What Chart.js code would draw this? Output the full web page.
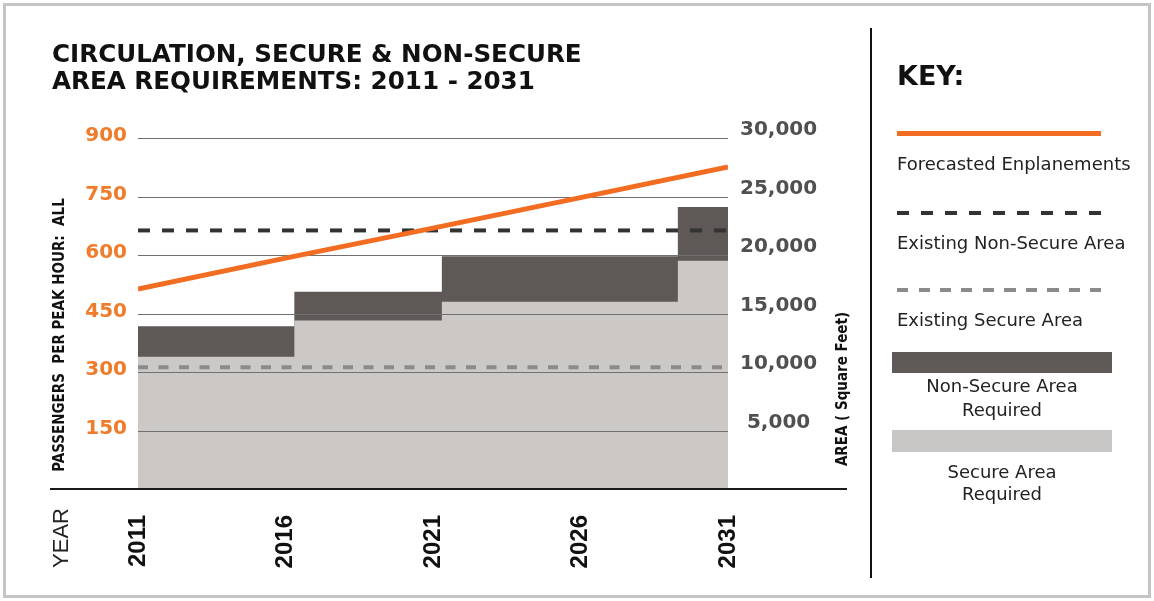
<!DOCTYPE html>
<html>
<head>
<meta charset="utf-8">
<script src="https://cdn.jsdelivr.net/npm/chart.js@4.4.1/dist/chart.umd.min.js"></script>
<style>
html,body{margin:0;padding:0;background:#fff;}
#wrap{position:relative;width:1154px;height:601px;overflow:hidden;background:#fff;}
canvas{position:absolute;left:0;top:0;}
.abs{position:absolute;white-space:pre;}
.frame{position:absolute;left:3px;top:3px;width:1148px;height:595px;box-sizing:border-box;border:3px solid #c4c4c4;}
.title{left:52px;top:40px;font:bold 24.6px/27px "DejaVu Sans";color:#111;}
.key{left:897px;top:62px;font:bold 27px/27px "DejaVu Sans";color:#111;}
.ltxt{font:18px/22px "DejaVu Sans";color:#222;}
.ctr{text-align:center;width:220px;left:892px;}
.rot{transform:translate(-50%,-50%) rotate(-90deg);}
.axt{font-family:"DejaVu Sans Condensed","DejaVu Sans";font-stretch:condensed;font-weight:bold;font-size:15px;line-height:16px;color:#111;}
</style>
</head>
<body>
<div id="wrap">
<canvas id="c" width="1154" height="601"></canvas>
<div class="frame"></div>
<div class="abs title">CIRCULATION, SECURE &amp; NON-SECURE
AREA REQUIREMENTS: 2011 - 2031</div>
<div class="abs" style="left:870px;top:28px;width:2px;height:550px;background:#111;"></div>
<div class="abs key">KEY:</div>
<div class="abs" style="left:897px;top:131px;width:204px;height:5px;background:#f26c22;"></div>
<div class="abs ltxt" style="left:897px;top:153px;">Forecasted Enplanements</div>
<div class="abs" style="left:897px;top:211px;width:205px;height:4px;background:repeating-linear-gradient(to right,#333 0 12.5px,transparent 12.5px 24px);"></div>
<div class="abs ltxt" style="left:897px;top:232px;">Existing Non-Secure Area</div>
<div class="abs" style="left:897px;top:288px;width:205px;height:4px;background:repeating-linear-gradient(to right,#8c8a8a 0 11px,transparent 11px 21.5px);"></div>
<div class="abs ltxt" style="left:897px;top:309px;">Existing Secure Area</div>
<div class="abs" style="left:892px;top:352px;width:220px;height:21px;background:#5f5a58;"></div>
<div class="abs ltxt ctr" style="top:374px;line-height:23.5px;">Non-Secure Area
Required</div>
<div class="abs" style="left:892px;top:430px;width:220px;height:22px;background:#c9c7c6;"></div>
<div class="abs ltxt ctr" style="top:461px;">Secure Area
Required</div>
<div class="abs rot axt" style="left:59px;top:335px;">PASSENGERS  PER PEAK HOUR:  ALL</div>
<div class="abs rot axt" style="left:842px;top:389px;">AREA ( Square Feet)</div>
<div class="abs rot" style="left:61px;top:538px;font:22px/24px 'Liberation Sans';color:#222;">YEAR</div>
</div>
<script>
// ---- data ----
const forecastYears = [2011, 2016, 2021, 2026, 2031];
const forecastEnplanements = [513, 592, 669, 747, 826];           // passengers per peak hour
const areaStepYears = [2011, 2016.3, 2021.3, 2029.3, 2031];
const secureAreaRequired = [11300, 14400, 16000, 19500, 19500];    // sq ft
const nonSecureAreaRequired = [2600, 2450, 3900, 4600, 4600];      // sq ft
const existingNonSecureArea = 22100;                               // sq ft
const existingSecureArea = 10400;                                  // sq ft
const yearTicks = [2011, 2016, 2021, 2026, 2031];
const passengerTicks = [150, 300, 450, 600, 750, 900];
const areaTicks = [5000, 10000, 15000, 20000, 25000, 30000];

const totalAreaRequired = secureAreaRequired.map((v, i) => v + nonSecureAreaRequired[i]);
const pts = (xs, ys) => xs.map((x, i) => ({x, y: ys[i]}));
const hline = (v) => [{x: yearTicks[0], y: v}, {x: yearTicks[yearTicks.length - 1], y: v}];

const overlayPlugin = {
  id: 'overlay',
  afterDatasetDraw(chart, args) {
    if (chart.data.datasets[args.index].label !== 'Secure Area Required') return;
    const {ctx, chartArea} = chart;
    const yP = chart.scales.yP;
    ctx.save();
    ctx.strokeStyle = '#707070';
    ctx.lineWidth = 1;
    yP.ticks.forEach(t => {
      const y = Math.round(yP.getPixelForValue(t.value)) + 0.5;
      ctx.beginPath(); ctx.moveTo(chartArea.left, y); ctx.lineTo(chartArea.right, y); ctx.stroke();
    });
    ctx.restore();
  },
  afterDatasetsDraw(chart) {
    const {ctx, chartArea} = chart;
    ctx.save();
    ctx.strokeStyle = '#1b1b1b';
    ctx.lineWidth = 2;
    ctx.beginPath(); ctx.moveTo(50, chartArea.bottom); ctx.lineTo(847, chartArea.bottom); ctx.stroke();
    ctx.restore();
  }
};

new Chart(document.getElementById('c'), {
  type: 'line',
  data: {
    datasets: [
      { label: 'Forecasted Enplanements', data: pts(forecastYears, forecastEnplanements), yAxisID: 'yP',
        borderColor: '#f26c22', borderWidth: 5, pointRadius: 0, fill: false, order: 1 },
      { label: 'Existing Non-Secure Area', data: hline(existingNonSecureArea), yAxisID: 'yA',
        borderColor: '#333333', borderWidth: 4, borderDash: [12, 12], pointRadius: 0, fill: false, order: 2 },
      { label: 'Existing Secure Area', data: hline(existingSecureArea), yAxisID: 'yA',
        borderColor: '#8c8a8a', borderWidth: 4, borderDash: [10, 10.5], pointRadius: 0, fill: false, order: 3 },
      { label: 'Secure Area Required', data: pts(areaStepYears, secureAreaRequired), yAxisID: 'yA',
        stepped: true, borderWidth: 0, borderColor: 'rgba(0,0,0,0)', backgroundColor: '#cbc8c6', pointRadius: 0, fill: 'origin', order: 4 },
      { label: 'Non-Secure Area Required', data: pts(areaStepYears, totalAreaRequired), yAxisID: 'yA',
        stepped: true, borderWidth: 0, borderColor: 'rgba(0,0,0,0)', backgroundColor: '#5e5856', pointRadius: 0, fill: 'origin', order: 5 }
    ]
  },
  options: {
    responsive: false,
    devicePixelRatio: 1,
    animation: false,
    events: [],
    layout: { padding: { top: 138, right: 326, bottom: 32, left: 0 } },
    plugins: { legend: { display: false }, tooltip: { enabled: false }, title: { display: false } },
    scales: {
      x: {
        type: 'linear', min: yearTicks[0], max: yearTicks[yearTicks.length - 1],
        afterBuildTicks: s => { s.ticks = yearTicks.map(v => ({value: v})); },
        afterFit: s => { s.height = 80; },
        grid: { display: false, drawTicks: false },
        border: { display: false },
        ticks: { autoSkip: false, minRotation: 90, maxRotation: 90, padding: 26, color: '#111',
          font: { family: 'Liberation Sans', weight: 'bold', size: 24 }, callback: v => String(v) }
      },
      yP: {
        position: 'left', min: 0, max: 900,
        afterBuildTicks: s => { s.ticks = passengerTicks.map(v => ({value: v})); },
        afterFit: s => { s.width = 138; },
        grid: { display: false, drawTicks: false },
        border: { display: false },
        ticks: { padding: 11, labelOffset: -2, color: '#f07b2b',
          font: { family: 'DejaVu Sans', weight: 'bold', size: 20 }, callback: v => String(v) }
      },
      yA: {
        position: 'right', min: 0, max: 30000,
        afterBuildTicks: s => { s.ticks = areaTicks.map(v => ({value: v})); },
        afterFit: s => { s.width = 100; },
        grid: { display: false, drawTicks: false },
        border: { display: false },
        ticks: { padding: 12, labelOffset: -8, crossAlign: 'center', color: '#505050',
          font: { family: 'DejaVu Sans', weight: 'bold', size: 20 }, callback: v => Number(v).toLocaleString('en-US') }
      }
    }
  },
  plugins: [overlayPlugin]
});
</script>
</body>
</html>
